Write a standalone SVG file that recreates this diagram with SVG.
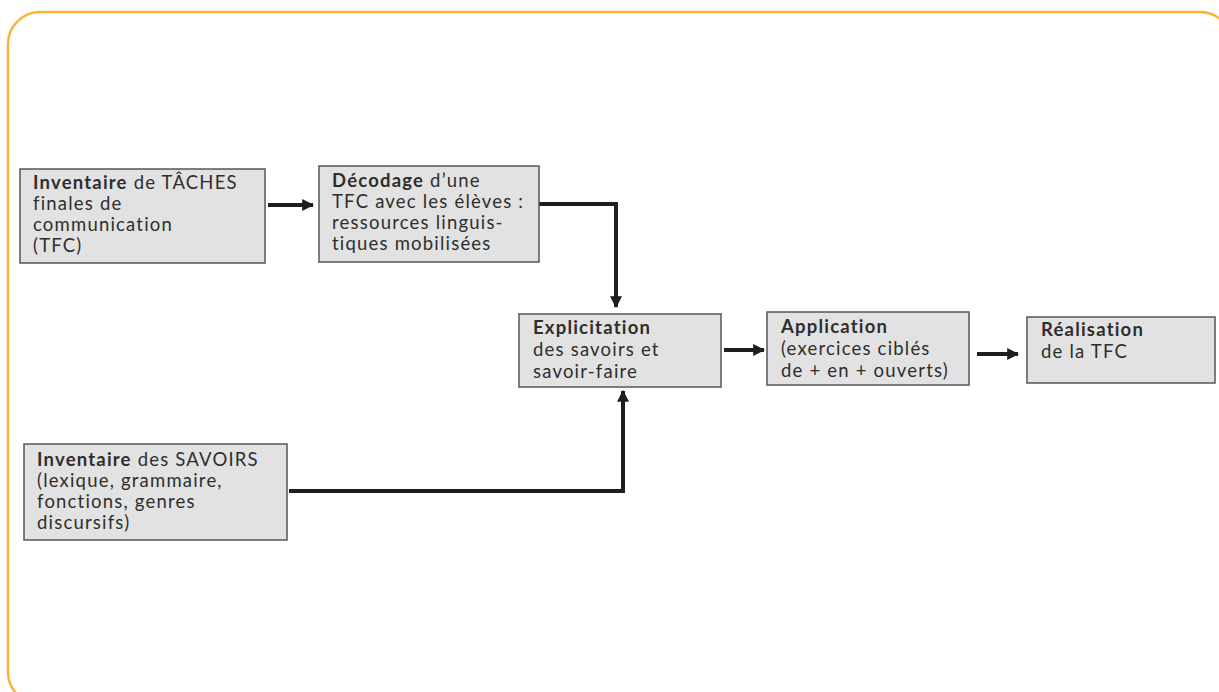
<svg xmlns="http://www.w3.org/2000/svg" width="1219" height="692" viewBox="0 0 1219 692">
<defs>
<style>
.frame{fill:none;stroke:#f9b339;stroke-width:2.5}
.box{fill:#e2e2e2;stroke:#555;stroke-width:1.5}
.t{font-family:Lato,"Open Sans",sans-serif;font-size:18.5px;letter-spacing:1.2px;fill:#2e2e2e}
.b{font-weight:bold}
.c{fill:none;stroke:#1e1e1e;stroke-width:4;stroke-linejoin:miter}
</style>
<marker id="ah" viewBox="0 0 10 10" refX="9" refY="5" markerWidth="3" markerHeight="3" orient="auto" markerUnits="strokeWidth">
<path d="M0,0 L10,5 L0,10 z" fill="#1e1e1e"/>
</marker>
</defs>
<rect width="1219" height="692" fill="#fff"/>
<rect class="frame" x="8" y="12" width="1224" height="692" rx="32"/>
<g id="connectors">
<path class="c" d="M268,205 H313" marker-end="url(#ah)"/>
<path class="c" d="M539,204 H616 V307" marker-end="url(#ah)"/>
<path class="c" d="M289,491 H623 V391" marker-end="url(#ah)"/>
<path class="c" d="M724,350 H764" marker-end="url(#ah)"/>
<path class="c" d="M977,354 H1018" marker-end="url(#ah)"/>
</g>
<g id="n1">
<rect class="box" x="20" y="169" width="245" height="94"/>
<text class="t" x="33" y="189"><tspan class="b">Inventaire</tspan> de TÂCHES</text>
<text class="t" x="33" y="210">finales de</text>
<text class="t" x="33" y="231">communication</text>
<text class="t" x="33" y="252">(TFC)</text>
</g>
<g id="n2">
<rect class="box" x="319" y="166" width="220" height="96"/>
<text class="t" x="332" y="187"><tspan class="b">Décodage</tspan> d’une</text>
<text class="t" x="332" y="208">TFC avec les élèves :</text>
<text class="t" x="332" y="229">ressources linguis-</text>
<text class="t" x="332" y="250">tiques mobilisées</text>
</g>
<g id="n3">
<rect class="box" x="519" y="314" width="202" height="73"/>
<text class="t b" x="533" y="334">Explicitation</text>
<text class="t" x="533" y="356">des savoirs et</text>
<text class="t" x="533" y="378">savoir-faire</text>
</g>
<g id="n4">
<rect class="box" x="767" y="312" width="202" height="73"/>
<text class="t b" x="781" y="333">Application</text>
<text class="t" x="781" y="355">(exercices ciblés</text>
<text class="t" x="781" y="377">de + en + ouverts)</text>
</g>
<g id="n5">
<rect class="box" x="1027" y="317" width="188" height="66"/>
<text class="t b" x="1041" y="336">Réalisation</text>
<text class="t" x="1041" y="358">de la TFC</text>
</g>
<g id="n6">
<rect class="box" x="24" y="444" width="263" height="96"/>
<text class="t" x="37" y="466"><tspan class="b">Inventaire</tspan> des SAVOIRS</text>
<text class="t" x="37" y="487">(lexique, grammaire,</text>
<text class="t" x="37" y="508">fonctions, genres</text>
<text class="t" x="37" y="529">discursifs)</text>
</g>
</svg>
